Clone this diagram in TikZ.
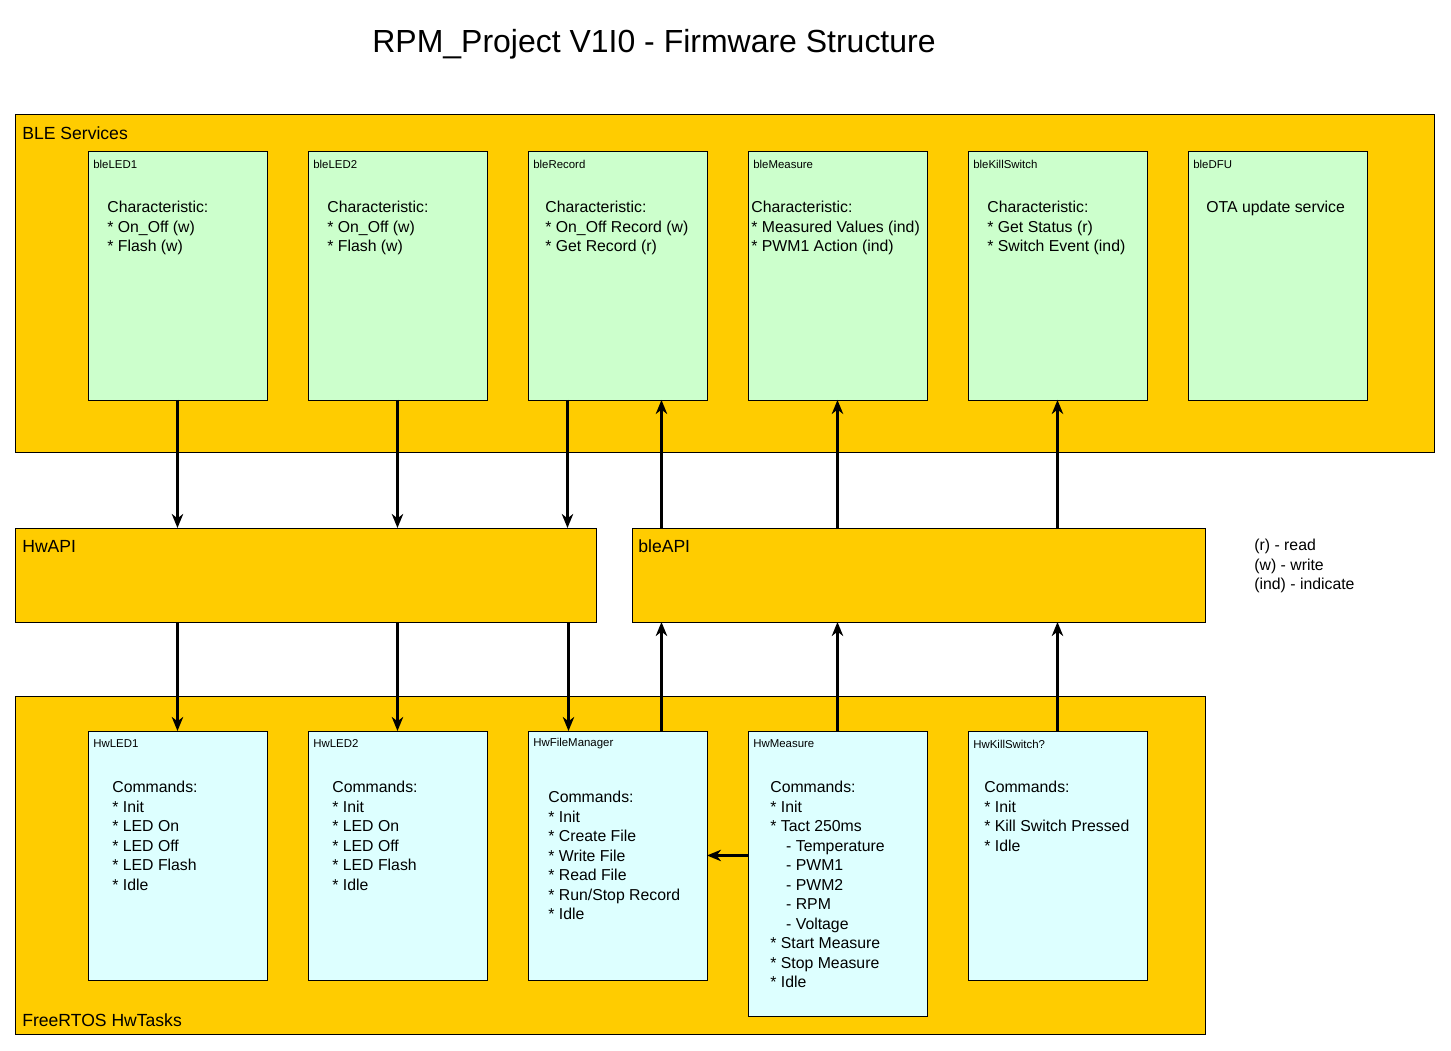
\documentclass[tikz,border=0pt]{standalone}
\usepackage{fontspec}
\setmainfont{Liberation Sans}
\usetikzlibrary{arrows.meta}
\definecolor{groupgold}{RGB}{255,204,0}
\definecolor{blegreen}{RGB}{204,255,204}
\definecolor{hwcyan}{RGB}{221,255,255}

\tikzset{
    group/.style={draw, fill=groupgold, line width=0.5pt, inner sep=0pt, outer sep=0pt, anchor=north west},
    grouplabel/.style={font=\fontsize{10}{12}\selectfont, anchor=west, inner sep=0pt},
    blebox/.style={draw, fill=blegreen, line width=0.5pt, inner sep=0pt, outer sep=0pt, anchor=north west,
        minimum width=3.58cm, minimum height=4.98cm},
    hwbox/.style={draw, fill=hwcyan, line width=0.5pt, inner sep=0pt, outer sep=0pt, anchor=north west,
        minimum width=3.58cm, minimum height=4.98cm},
    boxtitle/.style={font=\fontsize{6.5}{8}\selectfont, anchor=west, inner sep=0pt},
    boxbody/.style={font=\fontsize{9}{11.1}\selectfont, align=left, anchor=north west, inner sep=0pt},
    flow/.style={-{Stealth[length=8pt,width=6.5pt,inset=2.5pt]}, line width=1.2pt}
}

\begin{document}
\begin{tikzpicture}[x=0.02cm, y=-0.02cm]
    \useasboundingbox[fill=white] (0,0) rectangle (1451,1051);

    % Title
    \node[font=\fontsize{18.2}{22}\selectfont] (title) at (654,44) {RPM\_Project V1I0 - Firmware Structure};

    % Groups
    \node[group, minimum width=28.4cm, minimum height=6.78cm] (bleServices) at (15,114) {};
    \node[grouplabel] (bleServicesLabel) at (22,133) {BLE Services};
    \node[group, minimum width=11.64cm, minimum height=1.88cm] (HwAPI) at (15,528) {};
    \node[grouplabel] (HwAPILabel) at (22,546) {HwAPI};
    \node[group, minimum width=11.48cm, minimum height=1.88cm] (bleAPI) at (632,528) {};
    \node[grouplabel] (bleAPILabel) at (638,546) {bleAPI};
    \node[group, minimum width=23.82cm, minimum height=6.76cm] (HwTasks) at (15,696) {};
    \node[grouplabel] (HwTasksLabel) at (22,1020) {FreeRTOS HwTasks};

    % BLE services
    \node[blebox] (bleLEDa) at (88,151) {};
    \node[boxtitle] (bleLEDaTitle) at (93,164) {bleLED1};
    \node[boxbody] (bleLEDaBody) at (107,201) {Characteristic:\\* On\_Off (w)\\* Flash (w)};

    \node[blebox] (bleLEDb) at (308,151) {};
    \node[boxtitle] (bleLEDbTitle) at (313,164) {bleLED2};
    \node[boxbody] (bleLEDbBody) at (327,201) {Characteristic:\\* On\_Off (w)\\* Flash (w)};

    \node[blebox] (bleRecord) at (528,151) {};
    \node[boxtitle] (bleRecordTitle) at (533,164) {bleRecord};
    \node[boxbody] (bleRecordBody) at (545,201) {Characteristic:\\* On\_Off Record (w)\\* Get Record (r)};

    \node[blebox] (bleMeasure) at (748,151) {};
    \node[boxtitle] (bleMeasureTitle) at (753,164) {bleMeasure};
    \node[boxbody] (bleMeasureBody) at (751,201) {Characteristic:\\* Measured Values (ind)\\* PWM1 Action (ind)};

    \node[blebox] (bleKillSwitch) at (968,151) {};
    \node[boxtitle] (bleKillSwitchTitle) at (973,164) {bleKillSwitch};
    \node[boxbody] (bleKillSwitchBody) at (987,201) {Characteristic:\\* Get Status (r)\\* Switch Event (ind)};

    \node[blebox] (bleDFU) at (1188,151) {};
    \node[boxtitle] (bleDFUTitle) at (1193,164) {bleDFU};
    \node[boxbody] (bleDFUBody) at (1206,201) {OTA update service};

    % HW tasks
    \node[hwbox] (HwLEDa) at (88,731) {};
    \node[boxtitle] (HwLEDaTitle) at (93,744) {HwLED1};
    \node[boxbody] (HwLEDaBody) at (112,781) {Commands:\\* Init\\* LED On\\* LED Off\\* LED Flash\\* Idle};

    \node[hwbox] (HwLEDb) at (308,731) {};
    \node[boxtitle] (HwLEDbTitle) at (313,744) {HwLED2};
    \node[boxbody] (HwLEDbBody) at (332,781) {Commands:\\* Init\\* LED On\\* LED Off\\* LED Flash\\* Idle};

    \node[hwbox] (HwFileManager) at (528,731) {};
    \node[boxtitle] (HwFileManagerTitle) at (533,744) {HwFileManager};
    \node[boxbody] (HwFileManagerBody) at (548,791) {Commands:\\* Init\\* Create File\\* Write File\\* Read File\\* Run/Stop Record\\* Idle};

    \node[hwbox, minimum height=5.7cm] (HwMeasure) at (748,731) {};
    \node[boxtitle] (HwMeasureTitle) at (753,744) {HwMeasure};
    \node[boxbody] (HwMeasureBody) at (770,781) {Commands:\\* Init\\* Tact 250ms\\\hspace{1em}- Temperature\\\hspace{1em}- PWM1\\\hspace{1em}- PWM2\\\hspace{1em}- RPM\\\hspace{1em}- Voltage\\* Start Measure\\* Stop Measure\\* Idle};

    \node[hwbox] (HwKillSwitch) at (968,731) {};
    \node[boxtitle] (HwKillSwitchTitle) at (973,744) {HwKillSwitch?};
    \node[boxbody] (HwKillSwitchBody) at (984,781) {Commands:\\* Init\\* Kill Switch Pressed\\* Idle};

    % Legend
    \node[boxbody] (legend) at (1254,539) {(r) - read\\(w) - write\\(ind) - indicate};

    % Write paths (BLE -> HwAPI -> tasks)
    \draw[flow] (bleLEDa.south) -- (bleLEDa.south |- HwAPI.north);
    \draw[flow] (bleLEDb.south) -- (bleLEDb.south |- HwAPI.north);
    \draw[flow] ([xshift=-1cm]bleRecord.south) -- ([xshift=-1cm]bleRecord.south |- HwAPI.north);
    \draw[flow] (HwAPI.south -| HwLEDa.north) -- (HwLEDa.north);
    \draw[flow] (HwAPI.south -| HwLEDb.north) -- (HwLEDb.north);
    \draw[flow] ([xshift=-0.98cm]HwFileManager.north |- HwAPI.south) -- ([xshift=-0.98cm]HwFileManager.north);

    % Read/indicate paths (tasks -> bleAPI -> BLE)
    \draw[flow] ([xshift=0.88cm]bleRecord.south |- bleAPI.north) -- ([xshift=0.88cm]bleRecord.south);
    \draw[flow] (bleMeasure.south |- bleAPI.north) -- (bleMeasure.south);
    \draw[flow] (bleKillSwitch.south |- bleAPI.north) -- (bleKillSwitch.south);
    \draw[flow] ([xshift=0.88cm]HwFileManager.north) -- ([xshift=0.88cm]HwFileManager.north |- bleAPI.south);
    \draw[flow] (HwMeasure.north) -- (HwMeasure.north |- bleAPI.south);
    \draw[flow] (HwKillSwitch.north) -- (HwKillSwitch.north |- bleAPI.south);

    % Measure -> file manager
    \draw[flow] (HwFileManager.east -| HwMeasure.west) -- (HwFileManager.east);

\end{tikzpicture}
\end{document}
